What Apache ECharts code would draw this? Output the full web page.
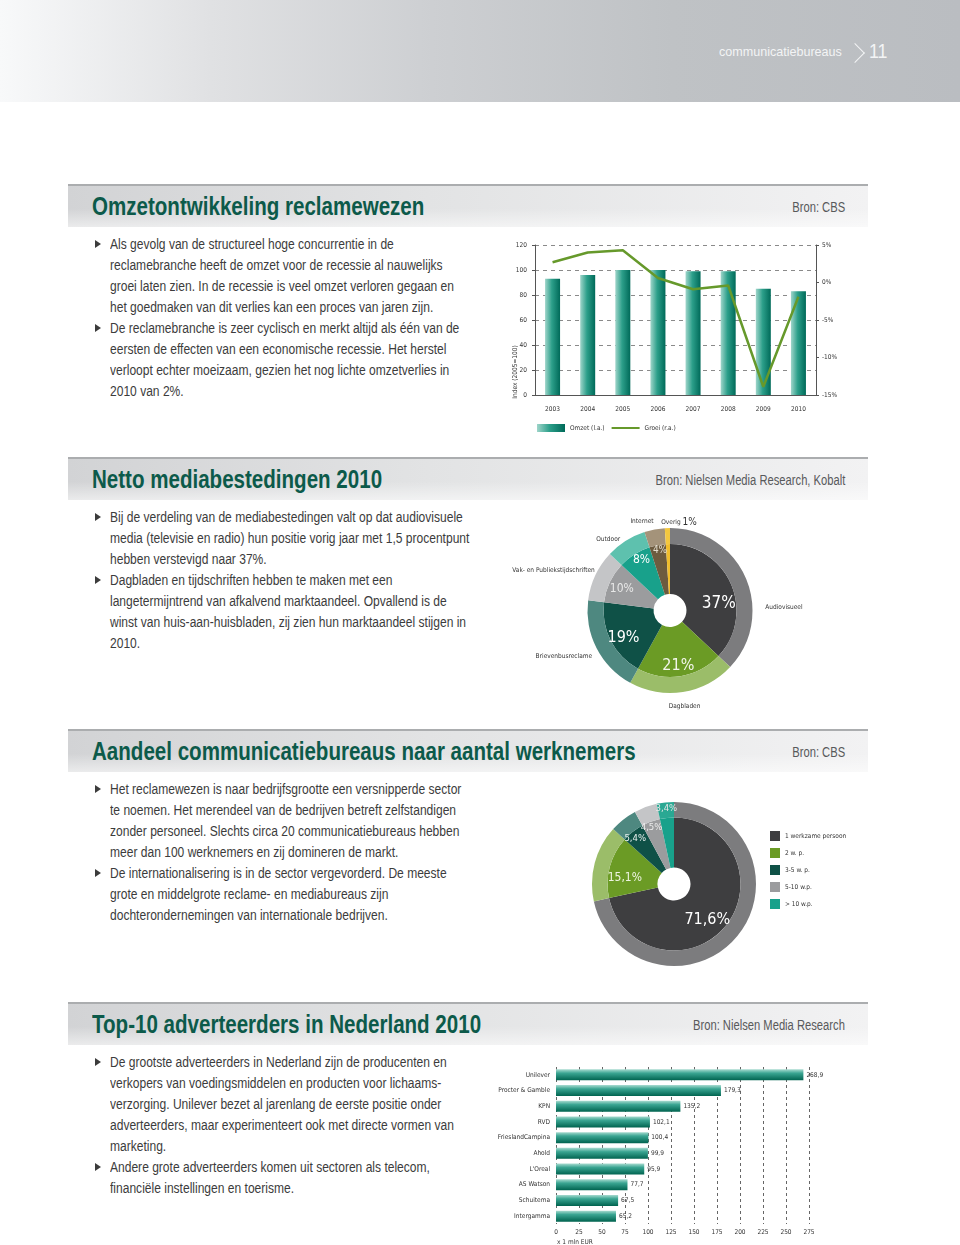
<!DOCTYPE html>
<html>
<head>
<meta charset="utf-8">
<script src="https://cdn.jsdelivr.net/npm/echarts@6/dist/echarts.min.js"></script>
<style>
  body { margin: 0; background: #fff; }
  #page { position: relative; width: 960px; height: 1245px; overflow: hidden; background: #fff;
          font-family: "Liberation Sans", Arial, sans-serif; }
  #top { position: absolute; left: 0; top: 0; width: 960px; height: 102px;
         background: linear-gradient(to right, #f8f9fa 0%, #e0e1e3 22%, #cdcfd2 45%, #bfc2c5 70%, #babdc1 100%); }
  #top .lbl { position: absolute; left: 719px; top: 44px; font-size: 13.5px; color: #f3f4f5; transform: scaleX(0.93); transform-origin: 0 0; }
  #top .chev { position: absolute; left: 848px; top: 46px; width: 13px; height: 13px;
               border-top: 1.3px solid #f3f4f5; border-right: 1.3px solid #f3f4f5; transform: rotate(45deg); }
  #top .num { position: absolute; left: 869px; top: 39px; font-size: 21px; color: #f3f4f5; transform: scaleX(0.85); transform-origin: 0 0; }
  .bar { position: absolute; left: 68px; width: 800px; height: 41px; border-top: 2px solid #abadaf;
         background: linear-gradient(to bottom, rgba(255,255,255,0) 55%, rgba(255,255,255,0.55) 100%),
                     linear-gradient(to right, #d2d3d5 0%, #e2e3e4 45%, #f2f2f3 100%); }
  .bar .t { position: absolute; left: 24px; top: 6px; font-size: 25px; font-weight: bold; color: #0c5a4a;
            white-space: nowrap; transform: scaleX(0.822); transform-origin: 0 0; }
  .bar .src { position: absolute; right: 23px; top: 13px; font-size: 14px; color: #58595b;
              white-space: nowrap; transform: scaleX(0.8); transform-origin: 100% 0; }
  .ln { position: absolute; left: 110px; height: 21px; line-height: 21px; font-size: 14px; color: #3c3c3c;
        white-space: nowrap; transform: scaleX(0.86); transform-origin: 0 0; }
  .bl { position: absolute; left: 95px; width: 0; height: 0; border-left: 6px solid #3c3c3c;
        border-top: 4px solid transparent; border-bottom: 4px solid transparent; }
  .chart { position: absolute; }
</style>
</head>
<body>
<div id="page">
  <div id="top"><span class="lbl">communicatiebureaus</span><div class="chev"></div><span class="num">11</span></div>

  <div class="bar" style="top:184px"><span class="t">Omzetontwikkeling reclamewezen</span><span class="src">Bron: CBS</span></div>
  <div class="bl" style="top:240px"></div><div class="ln" style="top:234px">Als gevolg van de structureel hoge concurrentie in de</div>
  <div class="ln" style="top:255px">reclamebranche heeft de omzet voor de recessie al nauwelijks</div>
  <div class="ln" style="top:276px">groei laten zien. In de recessie is veel omzet verloren gegaan en</div>
  <div class="ln" style="top:297px">het goedmaken van dit verlies kan een proces van jaren zijn.</div>
  <div class="bl" style="top:324px"></div><div class="ln" style="top:318px">De reclamebranche is zeer cyclisch en merkt altijd als één van de</div>
  <div class="ln" style="top:339px">eersten de effecten van een economische recessie. Het herstel</div>
  <div class="ln" style="top:360px">verloopt echter moeizaam, gezien het nog lichte omzetverlies in</div>
  <div class="ln" style="top:381px">2010 van 2%.</div>
  <div id="c1" class="chart" style="left:490px; top:230px; width:360px; height:212px"></div>

  <div class="bar" style="top:457px"><span class="t">Netto mediabestedingen 2010</span><span class="src">Bron: Nielsen Media Research, Kobalt</span></div>
  <div class="bl" style="top:513px"></div><div class="ln" style="top:507px">Bij de verdeling van de mediabestedingen valt op dat audiovisuele</div>
  <div class="ln" style="top:528px">media (televisie en radio) hun positie vorig jaar met 1,5 procentpunt</div>
  <div class="ln" style="top:549px">hebben verstevigd naar 37%.</div>
  <div class="bl" style="top:576px"></div><div class="ln" style="top:570px">Dagbladen en tijdschriften hebben te maken met een</div>
  <div class="ln" style="top:591px">langetermijntrend van afkalvend marktaandeel. Opvallend is de</div>
  <div class="ln" style="top:612px">winst van huis-aan-huisbladen, zij zien hun marktaandeel stijgen in</div>
  <div class="ln" style="top:633px">2010.</div>
  <div id="c2" class="chart" style="left:480px; top:505px; width:340px; height:210px"></div>

  <div class="bar" style="top:729px"><span class="t">Aandeel communicatiebureaus naar aantal werknemers</span><span class="src">Bron: CBS</span></div>
  <div class="bl" style="top:785px"></div><div class="ln" style="top:779px">Het reclamewezen is naar bedrijfsgrootte een versnipperde sector</div>
  <div class="ln" style="top:800px">te noemen. Het merendeel van de bedrijven betreft zelfstandigen</div>
  <div class="ln" style="top:821px">zonder personeel. Slechts circa 20 communicatiebureaus hebben</div>
  <div class="ln" style="top:842px">meer dan 100 werknemers en zij domineren de markt.</div>
  <div class="bl" style="top:869px"></div><div class="ln" style="top:863px">De internationalisering is in de sector vergevorderd. De meeste</div>
  <div class="ln" style="top:884px">grote en middelgrote reclame- en mediabureaus zijn</div>
  <div class="ln" style="top:905px">dochterondernemingen van internationale bedrijven.</div>
  <div id="c3" class="chart" style="left:590px; top:795px; width:300px; height:180px"></div>

  <div class="bar" style="top:1002px"><span class="t">Top-10 adverteerders in Nederland 2010</span><span class="src">Bron: Nielsen Media Research</span></div>
  <div class="bl" style="top:1058px"></div><div class="ln" style="top:1052px">De grootste adverteerders in Nederland zijn de producenten en</div>
  <div class="ln" style="top:1073px">verkopers van voedingsmiddelen en producten voor lichaams-</div>
  <div class="ln" style="top:1094px">verzorging. Unilever bezet al jarenlang de eerste positie onder</div>
  <div class="ln" style="top:1115px">adverteerders, maar experimenteert ook met directe vormen van</div>
  <div class="ln" style="top:1136px">marketing.</div>
  <div class="bl" style="top:1163px"></div><div class="ln" style="top:1157px">Andere grote adverteerders komen uit sectoren als telecom,</div>
  <div class="ln" style="top:1178px">financiële instellingen en toerisme.</div>
  <div id="c4" class="chart" style="left:490px; top:1060px; width:340px; height:185px"></div>
</div>

<script>
// data
var years = ['2003', '2004', '2005', '2006', '2007', '2008', '2009', '2010']
var omzet = [93, 96, 100, 100, 99, 99, 85, 83]
var groei = [2.7, 4.0, 4.3, 0.6, -0.9, -0.4, -13.9, -1.9]

var mediaNames = ['Audiovisueel', 'Dagbladen', 'Brievenbusreclame', 'Vak- en Publiekstijdschriften', 'Outdoor', 'Internet', 'Overig']
var mediaShares = [37, 21, 19, 10, 8, 4, 1]

var sizeNames = ['1 werkzame persoon', '2 w. p.', '3-5 w. p.', '5-10 w.p.', '> 10 w.p.']
var sizeShares = [71.6, 15.1, 5.4, 4.5, 3.4]

var advertisers = ['Unilever', 'Procter & Gamble', 'KPN', 'RVD', 'FrieslandCampina', 'Ahold', "L'Oreal", 'AS Watson', 'Schuitema', 'Intergamma']
var spend = [268.9, 179.3, 135.2, 102.1, 100.4, 99.9, 95.9, 77.7, 67.5, 65.2]

// styles
var FONT = '"DejaVu Sans Condensed", "Liberation Sans", sans-serif'
var SMALL = 6.5
var mediaInner = ['#3e3e40', '#6b9b25', '#0f5147', '#9b9c9e', '#18a18b', '#6d5b3f', '#f1bd2c']
var mediaOuter = ['#7c7c7e', '#9bbd69', '#4e8880', '#c4c5c7', '#5ec1ae', '#a4937a', '#f4c73e']
var mediaLabelSize = [17, 16, 16, 12, 12, 10, 0]
var mediaLabelColor = ['#fff', '#f2f6ea', '#fff', '#e8e8e8', '#fff', '#e2dccd', '#fff']
var mediaLabelShift = [[0, 14], [0, 3], [1, 3], [0, 1], [0, -6], [0, -8], [0, 0]]
var mediaNameShift = [[10, 32], [-20, 9], [5, 6], [9, -3], [2, 3], [5, -3], [-1, -1]]
var sizeInner = ['#3e3e40', '#6b9b25', '#0f5147', '#9b9c9e', '#18a18b']
var sizeOuter = ['#7c7c7e', '#9bbd69', '#4e8880', '#c4c5c7', '#2aa893']
var sizeLabelSize = [16, 12, 9.5, 9.5, 9.5]
var sizeLabelColor = ['#fff', '#eef4e2', '#e8f0ee', '#ececec', '#e6e6e6']
var sizeLabelShift = [[-8, 3], [2, 8], [-6, -4], [-4, -7], [-2, -23]]

function comma(v) { return String(v).replace('.', ',') }

// 1 omzet + groei
var chart1 = echarts.init(document.getElementById('c1'))
chart1.setOption({
  animation: false,
  textStyle: { fontFamily: FONT },
  grid: { left: 45, right: 34, top: 15, bottom: 47 },
  legend: {
    left: 47, top: 194, padding: 0, itemWidth: 28, itemHeight: 8, itemGap: 6,
    textStyle: { fontSize: SMALL, color: '#333' },
    data: [{ name: 'Omzet (l.a.)', icon: 'rect' }, { name: 'Groei (r.a.)', itemStyle: { opacity: 0 } }]
  },
  xAxis: {
    type: 'category', data: years,
    axisLine: { lineStyle: { color: '#555' } },
    axisTick: { length: 4, lineStyle: { color: '#555' } },
    axisLabel: { fontSize: SMALL, color: '#333', margin: 11 }
  },
  yAxis: [
    {
      type: 'value', min: 0, max: 120, interval: 20,
      axisLine: { show: true, lineStyle: { color: '#555' } },
      axisTick: { show: true, length: 3 },
      axisLabel: { fontSize: SMALL, color: '#333', margin: 8 },
      splitLine: { lineStyle: { type: [4, 4], color: '#8a8a8a' } }
    },
    {
      type: 'value', min: -15, max: 5, interval: 5, position: 'right',
      axisLine: { show: true, lineStyle: { color: '#555' } },
      axisTick: { show: true, length: 3 },
      axisLabel: { fontSize: SMALL, color: '#333', margin: 6, formatter: '{value}%' },
      splitLine: { show: false }
    }
  ],
  series: [
    {
      name: 'Omzet (l.a.)', type: 'bar', data: omzet, barWidth: 15,
      itemStyle: {
        color: new echarts.graphic.LinearGradient(0, 0, 1, 0, [
          { offset: 0, color: '#9fd5ca' }, { offset: 0.45, color: '#2c9f8a' }, { offset: 1, color: '#006a59' }
        ])
      }
    },
    {
      name: 'Groei (r.a.)', type: 'line', yAxisIndex: 1, data: groei, symbol: 'none',
      lineStyle: { width: 2.5, color: '#66992b' }, itemStyle: { color: '#66992b' }
    }
  ],
  graphic: [{
    type: 'text', x: 25, y: 142, rotation: Math.PI / 2,
    style: { text: 'Index (2005=100)', font: SMALL + 'px ' + FONT, fill: '#333', align: 'center', verticalAlign: 'middle' }
  }]
})

// 2 media pie
var chart2 = echarts.init(document.getElementById('c2'))
var c2 = [190, 105.5]
chart2.setOption({
  animation: false,
  textStyle: { fontFamily: FONT },
  series: [
    {
      type: 'pie', radius: [16.5, 66.5], center: c2, silent: true, label: { show: false },
      data: mediaNames.map(function (n, i) { return { name: n, value: mediaShares[i], itemStyle: { color: mediaInner[i] } } })
    },
    {
      type: 'pie', radius: [66.5, 82.5], center: c2, silent: true, avoidLabelOverlap: false,
      label: {
        position: 'outside', fontSize: SMALL, color: '#333',
        formatter: function (p) { return p.value < 2 ? p.name + ' {p|' + p.value + '%}' : p.name },
        rich: { p: { fontSize: 10, color: '#333' } }
      },
      labelLine: { show: false, length: 5, length2: 0 },
      labelLayout: function (p) {
        var s = mediaNameShift[p.dataIndex]
        var o = { dx: s[0], dy: s[1], hideOverlap: false }
        if (p.dataIndex === mediaNames.length - 1) o.align = 'left'
        return o
      },
      data: mediaNames.map(function (n, i) { return { name: n, value: mediaShares[i], itemStyle: { color: mediaOuter[i] } } })
    },
    {
      type: 'pie', radius: [34, 66.5], center: c2, silent: true, avoidLabelOverlap: false,
      itemStyle: { color: 'rgba(0,0,0,0)' },
      label: { position: 'inside', formatter: '{c}%' },
      labelLine: { show: false },
      labelLayout: function (p) {
        var s = mediaLabelShift[p.dataIndex]
        return { dx: s[0], dy: s[1], hideOverlap: false }
      },
      data: mediaNames.map(function (n, i) {
        return {
          name: n, value: mediaShares[i],
          label: { show: mediaLabelSize[i] > 0, fontSize: mediaLabelSize[i], color: mediaLabelColor[i], textBorderWidth: 0 }
        }
      })
    }
  ]
})

// 3 bedrijfsgrootte pie
var chart3 = echarts.init(document.getElementById('c3'))
var c3 = [84, 89]
chart3.setOption({
  animation: false,
  textStyle: { fontFamily: FONT },
  legend: {
    orient: 'vertical', left: 180, top: 36, padding: 0, icon: 'rect', itemWidth: 10, itemHeight: 10, itemGap: 7,
    textStyle: { fontSize: SMALL, color: '#333' }, data: sizeNames
  },
  series: [
    {
      name: 'binnen', type: 'pie', radius: [16.5, 66.5], center: c3, silent: true, label: { show: false },
      data: sizeNames.map(function (n, i) { return { name: n, value: sizeShares[i], itemStyle: { color: sizeInner[i] } } })
    },
    {
      name: 'buiten', type: 'pie', radius: [66.5, 82], center: c3, silent: true, label: { show: false },
      data: sizeNames.map(function (n, i) { return { name: n, value: sizeShares[i], itemStyle: { color: sizeOuter[i] } } })
    },
    {
      name: 'labels', type: 'pie', radius: [30, 70], center: c3, silent: true, avoidLabelOverlap: false,
      itemStyle: { color: 'rgba(0,0,0,0)' },
      label: { position: 'inside', formatter: function (p) { return comma(p.value) + '%' } },
      labelLine: { show: false },
      labelLayout: function (p) {
        var s = sizeLabelShift[p.dataIndex]
        return { dx: s[0], dy: s[1], hideOverlap: false }
      },
      data: sizeNames.map(function (n, i) {
        return {
          name: n, value: sizeShares[i],
          label: { fontSize: sizeLabelSize[i], color: sizeLabelColor[i], textBorderWidth: 0 }
        }
      })
    }
  ]
})

// 4 top-10 adverteerders
var chart4 = echarts.init(document.getElementById('c4'))
chart4.setOption({
  animation: false,
  textStyle: { fontFamily: FONT },
  grid: { left: 66, right: 21, top: 7, bottom: 21 },
  xAxis: {
    type: 'value', min: 0, max: 275, interval: 25,
    axisLine: { show: false }, axisTick: { show: false },
    axisLabel: { fontSize: SMALL, color: '#333', margin: 5 },
    splitLine: { lineStyle: { type: [3, 3], color: '#666' } }
  },
  yAxis: {
    type: 'category', data: advertisers, inverse: true,
    axisLine: { show: false }, axisTick: { show: false },
    axisLabel: { fontSize: SMALL, color: '#333', margin: 6 }
  },
  series: [{
    type: 'bar', data: spend, barWidth: 11,
    label: { show: true, position: 'right', distance: 3, fontSize: SMALL, color: '#333', formatter: function (p) { return comma(p.value) } },
    itemStyle: {
      color: new echarts.graphic.LinearGradient(0, 0, 0, 1, [
        { offset: 0, color: '#a8dbd0' }, { offset: 0.35, color: '#3aa592' }, { offset: 1, color: '#00634f' }
      ])
    }
  }],
  graphic: [{
    type: 'text', x: 67, y: 182,
    style: { text: 'x 1 mln EUR', font: SMALL + 'px ' + FONT, fill: '#333', verticalAlign: 'middle' }
  }]
})
</script>
</body>
</html>
